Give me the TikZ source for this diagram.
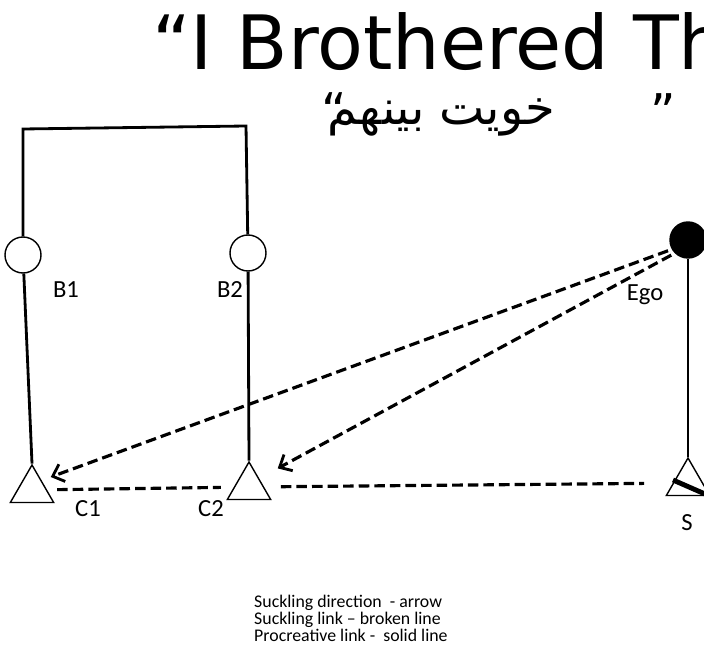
\documentclass[tikz,border=0pt]{standalone}
\usepackage{fontspec}
\setmainfont{Carlito}
\newfontfamily\titlefont{DejaVu Sans}
\newfontfamily\arabicfont[Script=Arabic]{DejaVu Sans}
\newfontfamily\quotefont{DejaVu Sans}
\TeXXeTstate=1
\usetikzlibrary{arrows.meta, shapes.geometric}

\begin{document}
\begin{tikzpicture}[
    x=0.03cm, y=-0.03cm,
    person/.style={circle, draw, line width=1.2pt, minimum size=1.08cm, inner sep=0pt},
    male/.style={regular polygon, regular polygon sides=3, draw, line width=1.2pt, minimum size=1.5cm, inner sep=0pt},
    proc/.style={line width=2.4pt},
    suck/.style={line width=2.7pt, dash pattern=on 9pt off 4.3pt},
    suckdir/.style={suck, -{Straight Barb[length=3mm, width=5.5mm, line width=2.4pt]}},
    lbl/.style={font=\fontsize{21}{24}\selectfont}
]
    \useasboundingbox (0,0) rectangle (704,654);
    \clip (0,0) rectangle (704,654);

    % titles
    \node[anchor=west, font=\titlefont\fontsize{64}{70}\selectfont] (title) at (148,42) {“I Brothered Them”};
    \node[anchor=east, inner sep=0pt, font=\arabicfont\fontsize{41}{45}\selectfont] (arabic) at (555,117) {\beginR خويت بينهم\endR};
    \node[inner sep=0pt, font=\quotefont\fontsize{42}{46}\selectfont] (lquote) at (334,111) {“};
    \node[inner sep=0pt, font=\quotefont\fontsize{42}{46}\selectfont] (rquote) at (663,112) {”};

    % people
    \node[person] (b1) at (23,255) {};
    \node[person] (b2) at (248,253) {};
    \node[person, fill=black] (ego) at (688,240) {};
    \node[male] (c1) at (32,490) {};
    \node[male] (c2) at (249,487) {};
    \node[male] (s) at (688,483) {};

    \node[lbl] (b1lbl) at (66,290) {B1};
    \node[lbl] (b2lbl) at (230,290) {B2};
    \node[lbl] (egolbl) at (645,295) {Ego};
    \node[lbl] (c1lbl) at (88,509) {C1};
    \node[lbl] (c2lbl) at (211,509) {C2};
    \node[lbl] (slbl) at (687,523) {S};

    % procreative links
    \coordinate (tl) at (23,129);
    \coordinate (tr) at (246,126);
    \draw[proc] (b1) -- (tl) -- (tr) -- (b2);
    \draw[proc] (b1) -- (c1.corner 1);
    \draw[proc] (b2) -- (c2.corner 1);
    \draw[proc] (ego) -- (s.corner 1);
    \draw[line width=4.2pt] ([shift={(-15,-3)}]s.center) -- ([shift={(17,11)}]s.center);

    % suckling links
    \draw[suck, shorten <=0.3cm, shorten >=0.38cm] (c1) -- (c2);
    \draw[suck, shorten <=0.5cm, shorten >=0.86cm] (c2) -- (s);
    \draw[suckdir, shorten <=0.12cm, shorten >=0.29cm] (ego.210) -- (c1.45);
    \draw[suckdir, shorten <=0.12cm, shorten >=0.63cm] (ego.225) -- (c2.40);

    % legend
    \node[anchor=north west, align=left, inner sep=0pt, font=\fontsize{15.2}{14.6}\selectfont] (legend) at (254,595)
        {Suckling direction\ \ - arrow\\Suckling link -- broken line\\Procreative link -\ \ solid line};
\end{tikzpicture}
\end{document}
